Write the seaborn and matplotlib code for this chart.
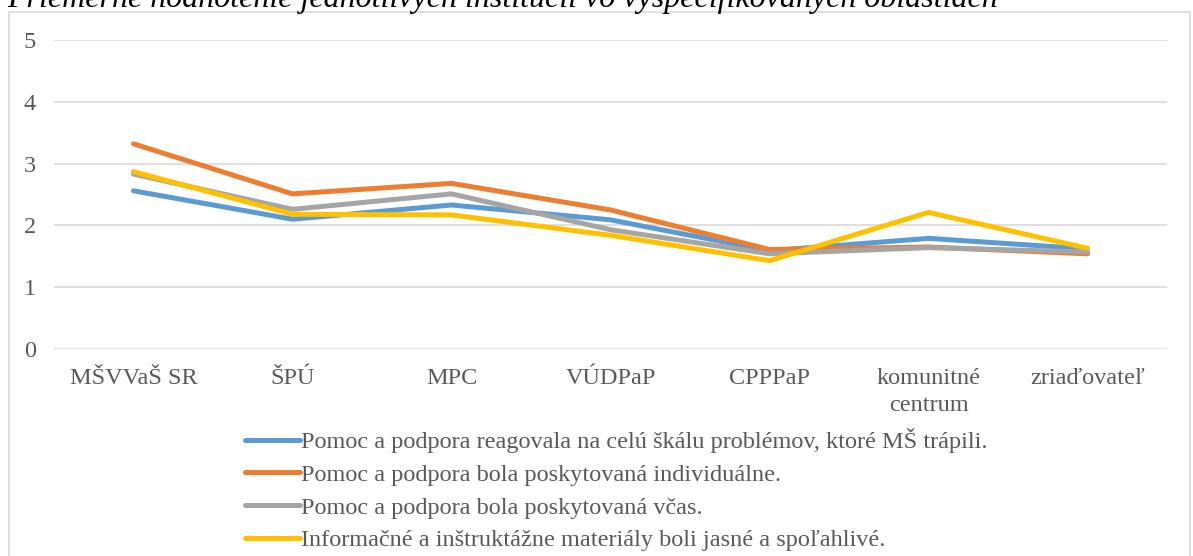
import matplotlib
matplotlib.use("Agg")
import matplotlib.pyplot as plt
import seaborn as sns
import pandas as pd
from matplotlib.patches import Rectangle
from matplotlib.lines import Line2D

# Institutions (x categories)
institutions = ["MŠVVaŠ SR", "ŠPÚ", "MPC", "VÚDPaP", "CPPPaP", "komunitné\ncentrum", "zriaďovateľ"]

# Series labels
series_names = [
    "Pomoc a podpora reagovala na celú škálu problémov, ktoré MŠ trápili.",
    "Pomoc a podpora bola poskytovaná individuálne.",
    "Pomoc a podpora bola poskytovaná včas.",
    "Informačné a inštruktážne materiály boli jasné a spoľahlivé.",
]

# Average ratings per institution
scope_values = [2.56, 2.10, 2.33, 2.09, 1.59, 1.79, 1.62]
individual_values = [3.32, 2.51, 2.68, 2.25, 1.61, 1.65, 1.54]
timely_values = [2.83, 2.26, 2.51, 1.93, 1.54, 1.64, 1.57]
materials_values = [2.87, 2.18, 2.17, 1.84, 1.43, 2.21, 1.63]

y_ticks = [0, 1, 2, 3, 4, 5]
title_text = "Priemerné hodnotenie jednotlivých inštitúcií vo vyšpecifikovaných oblastiach"

colors = ["#5B9BD5", "#ED7D31", "#A5A5A5", "#FFC000"]

rows = []
for name, vals in zip(series_names, [scope_values, individual_values, timely_values, materials_values]):
    for i, v in enumerate(vals):
        rows.append({"pos": i, "value": v, "series": name})
df = pd.DataFrame(rows)

sns.set_theme(style="white")
plt.rcParams["font.family"] = ["Liberation Serif", "DejaVu Serif"]

W, H = 1193, 556
fig = plt.figure(figsize=(W / 100, H / 100), dpi=100)

# Chart frame
fig.patches.append(Rectangle((9 / W, -0.05), (1190 - 9) / W, 1.05 - 12 / H,
                             transform=fig.transFigure, fill=False,
                             edgecolor="#D9D9D9", linewidth=1.2, zorder=0))

ax = fig.add_axes([54 / W, 1 - 349 / H, (1167 - 54) / W, (349 - 40) / H])

sns.lineplot(data=df, x="pos", y="value", hue="series", hue_order=series_names,
             palette=colors, linewidth=3.6, ax=ax, legend=False,
             solid_capstyle="round", solid_joinstyle="round")

tick_font = 17.5
ax.set_xlim(-0.5, len(institutions) - 0.5)
ax.set_ylim(0, 5)
ax.set_yticks(y_ticks)
ax.set_yticklabels([str(t) for t in y_ticks], fontsize=tick_font, color="#595959")
ax.set_xticks(range(len(institutions)))
ax.set_xticklabels(institutions, fontsize=tick_font, color="#595959", linespacing=1.35)
ax.tick_params(axis="both", length=0)
ax.tick_params(axis="y", pad=13)
ax.tick_params(axis="x", pad=14)
ax.set_xlabel("")
ax.set_ylabel("")
ax.grid(axis="y", color="#D9D9D9", linewidth=1.2)
ax.grid(axis="x", visible=False)
for s in ax.spines.values():
    s.set_visible(False)
ax.set_axisbelow(True)

# Legend below the plot
handles = [Line2D([0], [0], color=c, linewidth=3.6, solid_capstyle="round") for c in colors]
leg = fig.legend(handles, series_names, loc="upper left",
                 bbox_to_anchor=(233 / W, 1 - 416 / H), frameon=False,
                 fontsize=tick_font, handlelength=2.25, handletextpad=0.05,
                 labelspacing=0.44, borderpad=0)
for t in leg.get_texts():
    t.set_color("#595959")

# Chart title running off the top edge
fig.text(7 / W, 1 - 7 / H, title_text, fontsize=23, style="italic",
         color="black", ha="left", va="baseline")

fig.savefig("out.png", dpi=100)
